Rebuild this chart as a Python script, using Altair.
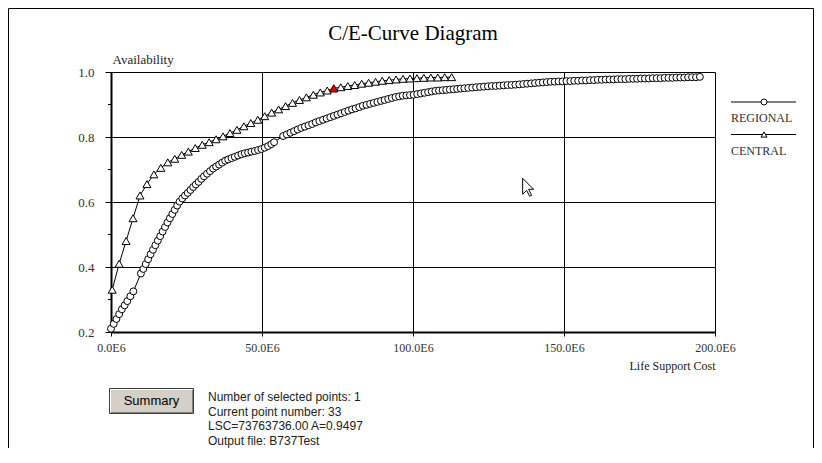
import altair as alt
import pandas as pd

TITLE = "C/E-Curve Diagram"
SERIES = ["REGIONAL", "CENTRAL"]
SHAPES = ["circle", "triangle-up"]
X_TITLE = "Life Support Cost"
Y_TITLE = "Availability"
X_TICKS = [0, 50, 100, 150, 200]          # in units of 1E6
Y_TICKS = [0.2, 0.4, 0.6, 0.8, 1.0]
Y_MINOR = [0.3, 0.5, 0.7, 0.9]

# REGIONAL (circles), x in 1E6
REG_X = [0.0, 0.9, 1.8, 2.7, 3.6, 4.5, 5.4, 6.4, 7.4,
         9.9, 10.7, 11.5, 12.3, 13.1, 13.9, 14.7, 15.5, 16.3, 17.1, 17.9, 18.7, 19.5, 20.3, 21.1, 21.9, 22.7,
         23.6, 24.5, 25.4, 26.3, 27.2, 28.1, 29.0, 29.9, 30.8,
         31.8, 32.8, 33.8, 34.8, 35.8, 36.8, 37.8,
         38.8, 39.9, 41.0, 42.1, 43.2, 44.3, 45.4, 46.5, 47.6, 48.7, 49.8, 50.9, 52.0, 53.1, 54.0,
         57.0, 58.2, 59.4, 60.6, 61.8, 63.0, 64.2, 65.4, 66.6, 67.8, 69.0, 70.2, 71.4, 72.6, 73.8, 75.0, 76.2,
         77.4, 78.6, 79.8, 81.0, 82.2, 83.4, 84.6, 85.8, 87.0, 88.2, 89.4, 90.6, 91.8, 93.0, 94.2, 95.4, 96.6,
         97.8, 99.0, 100.2, 101.4, 102.6, 103.8, 105.0, 106.2, 107.4, 108.6, 109.8, 111.0, 112.2, 113.4, 114.6,
         115.8, 117.0,
         118.3, 119.6, 120.9, 122.2, 123.5, 124.8, 126.1, 127.4, 128.7, 130.0, 131.3, 132.6, 133.9, 135.2,
         136.5, 137.8, 139.1, 140.4, 141.7, 143.0, 144.3, 145.6, 146.9, 148.2, 149.5, 150.8, 152.1, 153.4,
         154.7, 156.0, 157.3, 158.6, 159.9, 161.2, 162.5, 163.8, 165.1, 166.4, 167.7, 169.0, 170.3, 171.6,
         172.9, 174.2, 175.5, 176.8, 178.1, 179.4, 180.7, 182.0, 183.3, 184.6, 185.9, 187.2, 188.5, 189.8,
         191.1, 192.4, 193.7, 195.0]
REG_Y = [0.21, 0.225, 0.24, 0.255, 0.27, 0.282, 0.295, 0.31, 0.325,
         0.38, 0.394, 0.409, 0.424, 0.439, 0.453, 0.467, 0.481, 0.495, 0.509, 0.523, 0.537, 0.55, 0.563, 0.576, 0.589, 0.601,
         0.611, 0.620, 0.628, 0.637, 0.646, 0.654, 0.662, 0.671, 0.679,
         0.687, 0.695, 0.703, 0.709, 0.715, 0.721, 0.727,
         0.731, 0.735, 0.739, 0.743, 0.747, 0.75, 0.752, 0.755, 0.757, 0.76, 0.763, 0.767, 0.772, 0.778, 0.784,
         0.803, 0.808, 0.813, 0.818, 0.823, 0.828, 0.832, 0.836, 0.840, 0.845, 0.849, 0.853, 0.857, 0.861, 0.865, 0.869, 0.873,
         0.877, 0.881, 0.885, 0.888, 0.892, 0.896, 0.899, 0.902, 0.905, 0.908, 0.911, 0.914, 0.917, 0.92, 0.923, 0.925, 0.927,
         0.928, 0.929, 0.930, 0.932, 0.934, 0.936, 0.938, 0.940, 0.942, 0.943, 0.944, 0.945, 0.946, 0.947, 0.948,
         0.949, 0.950,
         0.951, 0.952, 0.953, 0.954, 0.955, 0.956, 0.957, 0.957, 0.958, 0.959, 0.960, 0.960, 0.961, 0.962,
         0.963, 0.964, 0.965, 0.966, 0.967, 0.968, 0.969, 0.970, 0.970, 0.971, 0.971, 0.972, 0.972, 0.973,
         0.973, 0.974, 0.974, 0.975, 0.975, 0.976, 0.976, 0.977, 0.977, 0.977, 0.978, 0.978, 0.978, 0.979,
         0.979, 0.979, 0.980, 0.980, 0.980, 0.981, 0.981, 0.981, 0.982, 0.982, 0.982, 0.983, 0.983, 0.983,
         0.984, 0.984, 0.984, 0.985]

# CENTRAL (triangles), x in 1E6
CEN_X = [0.4, 2.7, 5.0, 7.3, 9.6, 11.9, 14.2, 16.5, 18.8, 21.1, 23.4, 25.6, 27.9, 30.2, 32.5, 34.8,
         37.1, 39.4, 41.7, 44.0, 46.3, 48.6, 50.9, 53.2, 55.5, 57.8, 60.1, 62.4, 64.7, 67.0, 69.3, 71.6,
         73.763736, 76.1, 78.4, 80.7, 83.0, 85.3, 87.6, 89.8, 92.1, 94.4, 96.7, 99.0, 101.3, 103.6, 105.9,
         108.2, 110.5, 112.8]
CEN_Y = [0.33, 0.41, 0.48, 0.55, 0.62, 0.655, 0.685, 0.705, 0.722, 0.733, 0.745, 0.755, 0.766, 0.776, 0.784, 0.793,
         0.802, 0.812, 0.822, 0.833, 0.843, 0.853, 0.864, 0.875, 0.885, 0.895, 0.905, 0.914, 0.922, 0.930, 0.937, 0.943,
         0.9497, 0.953, 0.957, 0.960, 0.964, 0.967, 0.970, 0.973, 0.975, 0.977, 0.979, 0.980, 0.981, 0.982, 0.983,
         0.983, 0.984, 0.984]

SEL_X = [73.763736]
SEL_Y = [0.9497]

BUTTON_LABEL = "Summary"
INFO_LINES = ["Number of selected points: 1",
              "Current point number: 33",
              "LSC=73763736.00  A=0.9497",
              "Output file: B737Test"]

assert len(REG_X) == len(REG_Y) and len(CEN_X) == len(CEN_Y)

reg = pd.DataFrame({"x": REG_X, "y": REG_Y, "series": SERIES[0], "order": range(len(REG_X))})
cen = pd.DataFrame({"x": CEN_X, "y": CEN_Y, "series": SERIES[1], "order": range(len(CEN_X))})
df = pd.concat([reg, cen], ignore_index=True)
sel = pd.DataFrame({"x": SEL_X, "y": SEL_Y})

SERIF = "Liberation Serif"
SANS = "Liberation Sans"
W, H = 604, 260

xs = alt.Scale(domain=[0, 200], nice=False, zero=False)
ys = alt.Scale(domain=[0.2, 1.0], nice=False, zero=False)

x_axis = alt.Axis(values=X_TICKS, labelExpr="format(datum.value, '.1f') + 'E6'",
                  title=X_TITLE, titleAlign="right", titleAnchor="end", titleX=W, titleY=37,
                  titleBaseline="alphabetic", titleFont=SERIF, titleFontSize=12,
                  titleFontWeight="normal", titleColor="#222",
                  grid=True, gridColor="black", gridOpacity=1, gridWidth=1,
                  domainColor="black", domainWidth=2, tickColor="black", tickSize=4,
                  labelPadding=6, labelFont=SERIF, labelFontSize=12, labelColor="#333",
                  labelFlush=False)
y_axis = alt.Axis(values=Y_TICKS, format=".1f", title=Y_TITLE, titleAngle=0, titleAlign="left",
                  titleX=1, titleY=-9, titleBaseline="alphabetic", titleFont=SERIF, titleFontSize=13,
                  titleFontWeight="normal", titleColor="#222",
                  grid=True, gridColor="black", gridOpacity=1, gridWidth=1,
                  domainColor="black", domainWidth=2, tickColor="black", tickSize=6,
                  labelPadding=11, labelFont=SERIF, labelFontSize=13, labelColor="#333")

base = alt.Chart(df)
lines = base.mark_line(color="black", strokeWidth=1).encode(
    x=alt.X("x:Q", scale=xs, axis=x_axis),
    y=alt.Y("y:Q", scale=ys, axis=y_axis),
    detail="series:N",
    order="order:Q",
)
points = base.mark_point(filled=True, fill="white", stroke="black", strokeWidth=1, opacity=1).encode(
    x=alt.X("x:Q", scale=xs),
    y=alt.Y("y:Q", scale=ys),
    shape=alt.Shape("series:N", scale=alt.Scale(domain=SERIES, range=SHAPES), legend=None),
    size=alt.Size("series:N", scale=alt.Scale(domain=SERIES, range=[48, 64]), legend=None),
)
selected = alt.Chart(sel).mark_point(shape="triangle-up", filled=True, fill="#e00000",
                                     stroke="#700000", strokeWidth=1, size=64, opacity=1).encode(
    x=alt.X("x:Q", scale=xs), y=alt.Y("y:Q", scale=ys))

minor = alt.Chart(pd.DataFrame({"y": Y_MINOR})).mark_rule(color="black", strokeWidth=1).encode(
    y=alt.Y("y:Q", scale=ys), x=alt.value(-3), x2=alt.value(0))

one = alt.Data(values=[{}])
deco = []
# Chart title
deco.append(alt.Chart(one).mark_text(text=TITLE, font=SERIF, fontSize=21, color="black",
                                     align="center", baseline="middle").encode(
    x=alt.value(W / 2), y=alt.value(-38)))
# Legend (line + marker above label)
for i, (name, shp) in enumerate(zip(SERIES, SHAPES)):
    ly = 30 + i * 32.5
    deco.append(alt.Chart(one).mark_rule(color="black", strokeWidth=1).encode(
        x=alt.value(620), x2=alt.value(685), y=alt.value(ly)))
    deco.append(alt.Chart(one).mark_point(shape=shp, filled=True, fill="white", stroke="black",
                                          strokeWidth=1, size=36, opacity=1).encode(
        x=alt.value(653), y=alt.value(ly)))
    deco.append(alt.Chart(one).mark_text(text=name, font=SERIF, fontSize=12, color="#333",
                                         align="left", baseline="middle").encode(
        x=alt.value(620), y=alt.value(ly + 16)))

# Summary button
deco.append(alt.Chart(one).mark_rect(fill="#d4d0c8", stroke="#404040", strokeWidth=1).encode(
    x=alt.value(-1.5), x2=alt.value(82.5), y=alt.value(316.5), y2=alt.value(341.5)))
deco.append(alt.Chart(one).mark_rule(color="white", strokeWidth=1).encode(
    x=alt.value(-0.5), x2=alt.value(81), y=alt.value(317.5)))
deco.append(alt.Chart(one).mark_rule(color="white", strokeWidth=1).encode(
    x=alt.value(-0.5), y=alt.value(317.5), y2=alt.value(340)))
deco.append(alt.Chart(one).mark_rule(color="#808080", strokeWidth=1).encode(
    x=alt.value(0), x2=alt.value(81.5), y=alt.value(340.5)))
deco.append(alt.Chart(one).mark_rule(color="#808080", strokeWidth=1).encode(
    x=alt.value(81.5), y=alt.value(318), y2=alt.value(340.5)))
deco.append(alt.Chart(one).mark_text(text=BUTTON_LABEL, font=SANS, fontSize=13, color="black",
                                     align="center", baseline="middle").encode(
    x=alt.value(40.5), y=alt.value(329)))
for i, line in enumerate(INFO_LINES):
    deco.append(alt.Chart(one).mark_text(text=line, font=SANS, fontSize=12, color="#222",
                                         align="left", baseline="middle").encode(
        x=alt.value(97), y=alt.value(325 + 14.5 * i)))

# mouse pointer
CURSOR = ("M-0.5,-1 L-0.5,0.68 L-0.08,0.26 L0.235,0.89 L0.445,0.785 "
          "L0.13,0.155 L0.655,0.155 Z")
deco.append(alt.Chart(one).mark_point(shape=CURSOR, filled=True, fill="white", stroke="black",
                                      strokeWidth=1, size=361, opacity=1).encode(
    x=alt.value(416.4), y=alt.value(115.8)))

# window frame
deco.append(alt.Chart(one).mark_rect(fill=None, stroke="black", strokeWidth=1).encode(
    x=alt.value(-102.5), x2=alt.value(702.5), y=alt.value(-63.5), y2=alt.value(420)))

chart = alt.layer(lines, points, selected, minor, *deco).properties(
    width=W, height=H,
    autosize=alt.AutoSizeParams(type="none"),
    padding={"left": 103, "top": 64, "right": 99, "bottom": 116},
).configure_view(stroke="black", strokeWidth=1).configure(background="white")

chart.save("out.html", embed_options={"renderer": "svg", "actions": False})
